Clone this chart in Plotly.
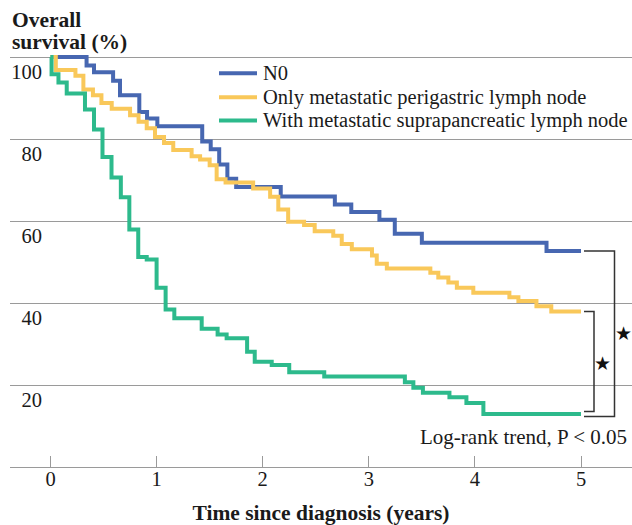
import plotly.graph_objects as go

# ---------------- data ----------------
series_names = ["N0",
                "Only metastatic perigastric lymph node",
                "With metastatic suprapancreatic lymph node"]

n0_t = [0, 0.34, 0.41, 0.59, 0.655, 0.837, 0.91, 1.007, 1.43, 1.51, 1.59, 1.667, 1.75,
        2.17, 2.68, 2.835, 3.10, 3.245, 3.50, 4.675, 5.0]
n0_v = [100, 97.9, 96.3, 94.2, 90.7, 86.6, 85.0, 83.1, 79.4, 77.5, 73.8, 70.3, 68.3,
        66.0, 64.0, 62.2, 60.3, 56.9, 54.7, 52.7, 52.7]

peri_t = [0, 0.05, 0.235, 0.31, 0.40, 0.48, 0.577, 0.75, 0.83, 0.907, 0.985, 1.07, 1.157,
          1.33, 1.41, 1.50, 1.566, 1.65, 1.91, 2.07, 2.147, 2.24, 2.39, 2.49, 2.665,
          2.745, 2.84, 3.03, 3.075, 3.17, 3.58, 3.655, 3.75, 3.83, 3.985, 4.325, 4.41,
          4.58, 4.72, 5.0]
peri_v = [100, 96.8, 95.4, 92.1, 90.7, 88.8, 87.4, 85.8, 84.2, 82.6, 80.5, 79.0, 77.3,
          75.8, 75.0, 73.6, 70.2, 69.4, 67.9, 65.9, 62.8, 59.8, 59.0, 57.5, 56.4,
          54.4, 53.1, 51.6, 49.6, 48.4, 47.4, 46.2, 45.0, 43.7, 42.5, 41.4, 40.5,
          39.2, 37.9, 37.9]

supra_t = [0, 0.01, 0.075, 0.153, 0.325, 0.41, 0.49, 0.575, 0.663, 0.743, 0.827, 0.907,
           1.0, 1.085, 1.167, 1.425, 1.575, 1.66, 1.853, 1.925, 2.085, 2.25, 2.58, 3.34,
           3.42, 3.51, 3.76, 3.92, 4.08, 5.0]
supra_v = [100, 95.8, 93.8, 91.1, 87.2, 82.3, 75.6, 70.6, 65.8, 57.9, 51.2, 50.6,
           43.7, 38.4, 36.3, 33.7, 32.3, 31.4, 28.1, 25.7, 24.9, 23.1, 22.1, 20.7,
           19.3, 18.1, 17.0, 15.6, 12.9, 12.9]

x_ticks = [0, 1, 2, 3, 4, 5]
y_ticks = [20, 40, 60, 80, 100]
y_title_lines = ["Overall", "survival (%)"]
x_title = "Time since diagnosis (years)"
test_label = "Log-rank trend, P < 0.05"
sig_mark = "★"

# ---------------- style / geometry ----------------
colors = ["#4767B1", "#F9C85A", "#2DBA8C"]
W, H = 632, 525
ML, MR, MT, MB = 10, 0, 40, 58
X0_PX, PX_PER_YEAR = 50.5, 106.1
Y0_PX, PX_PER_PCT = H - MB, 4.1
SERIF = "Liberation Serif"
TXT = "#1a1a1a"
GRID = "#9a9a9a"

def t_at(px):
    return (px - X0_PX) / PX_PER_YEAR

def v_at(py):
    return (Y0_PX - py) / PX_PER_PCT

x_range = [t_at(ML), t_at(W - MR)]
y_range = [0, v_at(MT)]

fig = go.Figure()
all_t = [n0_t, peri_t, supra_t]
all_v = [n0_v, peri_v, supra_v]
for name, t, v, c in zip(series_names, all_t, all_v, colors):
    fig.add_trace(go.Scatter(x=t, y=v, mode="lines", name=name,
                             line=dict(color=c, width=4, shape="hv"),
                             showlegend=False, hoverinfo="skip"))

shapes = []
annotations = []

# manual legend
leg_rows_py = [73.3, 97.3, 120.5]
for name, c, py in zip(series_names, colors, leg_rows_py):
    shapes.append(dict(type="line", xref="x", yref="y",
                       x0=t_at(219), x1=t_at(257), y0=v_at(py), y1=v_at(py),
                       line=dict(color=c, width=4)))
    annotations.append(dict(text=name, xref="x", yref="y", x=t_at(261), y=v_at(py),
                            xanchor="left", yanchor="middle", showarrow=False,
                            font=dict(family=SERIF, size=20.5, color=TXT)))

# significance brackets
end_n0, end_peri, end_supra = n0_v[-1], peri_v[-1], supra_v[-1]
def bracket(v_top, v_bot, px_right, bot_off):
    xl, xr = t_at(584), t_at(px_right)
    vb = v_bot - bot_off / PX_PER_PCT
    return dict(type="path", xref="x", yref="y",
                path=f"M{xl},{v_top} L{xr},{v_top} L{xr},{vb} L{xl},{vb}",
                line=dict(color="#333333", width=1.5))
shapes.append(bracket(end_n0, end_supra, 614.5, 2.5))
shapes.append(bracket(end_peri, end_supra, 594, -2.5))
annotations.append(dict(text=sig_mark, xref="x", yref="y", x=t_at(623.5),
                        y=(end_n0 + end_supra) / 2, showarrow=False,
                        font=dict(family="DejaVu Sans", size=19, color="#111")))
annotations.append(dict(text=sig_mark, xref="x", yref="y", x=t_at(602.5),
                        y=(end_peri + end_supra) / 2, showarrow=False,
                        font=dict(family="DejaVu Sans", size=19, color="#111")))

annotations.append(dict(text=test_label, xref="paper", yref="y", x=1.0, y=v_at(436.5),
                        xanchor="right", yanchor="middle", showarrow=False, xshift=-3,
                        font=dict(family=SERIF, size=21, color=TXT)))

# y title (two lines)
for line, py in zip(y_title_lines, [19.5, 41.5]):
    annotations.append(dict(text=line, xref="paper", yref="paper", x=0, y=(Y0_PX - py) / (Y0_PX - MT),
                            xanchor="left", yanchor="middle", showarrow=False,
                            font=dict(family=SERIF, size=21.5, color=TXT, weight="bold")))

fig.update_layout(
    width=W, height=H, margin=dict(l=ML, r=MR, t=MT, b=MB),
    paper_bgcolor="white", plot_bgcolor="white",
    shapes=shapes, annotations=annotations, showlegend=False,
    xaxis=dict(range=x_range, tickvals=x_ticks, ticktext=[str(v) for v in x_ticks],
               showgrid=False, zeroline=False, showline=True, linecolor=GRID, linewidth=1.3,
               ticks="inside", ticklen=11, tickwidth=1, tickcolor=GRID,
               ticklabelstandoff=-7,
               tickfont=dict(family=SERIF, size=20.5, color=TXT),
               title=dict(text=x_title, standoff=21,
                          font=dict(family=SERIF, size=21.5, color=TXT, weight="bold"))),
    yaxis=dict(range=y_range, tickvals=y_ticks, ticktext=[str(v) for v in y_ticks],
               showgrid=True, gridcolor=GRID, gridwidth=1.2, zeroline=False, showline=False,
               ticks="", ticklabelstandoff=-33, ticklabelshift=15,
               tickfont=dict(family=SERIF, size=20.5, color=TXT)),
)

fig.write_html("out.html", config={"displayModeBar": False},
               post_script="document.body.style.margin='0';document.body.style.overflow='hidden';")
